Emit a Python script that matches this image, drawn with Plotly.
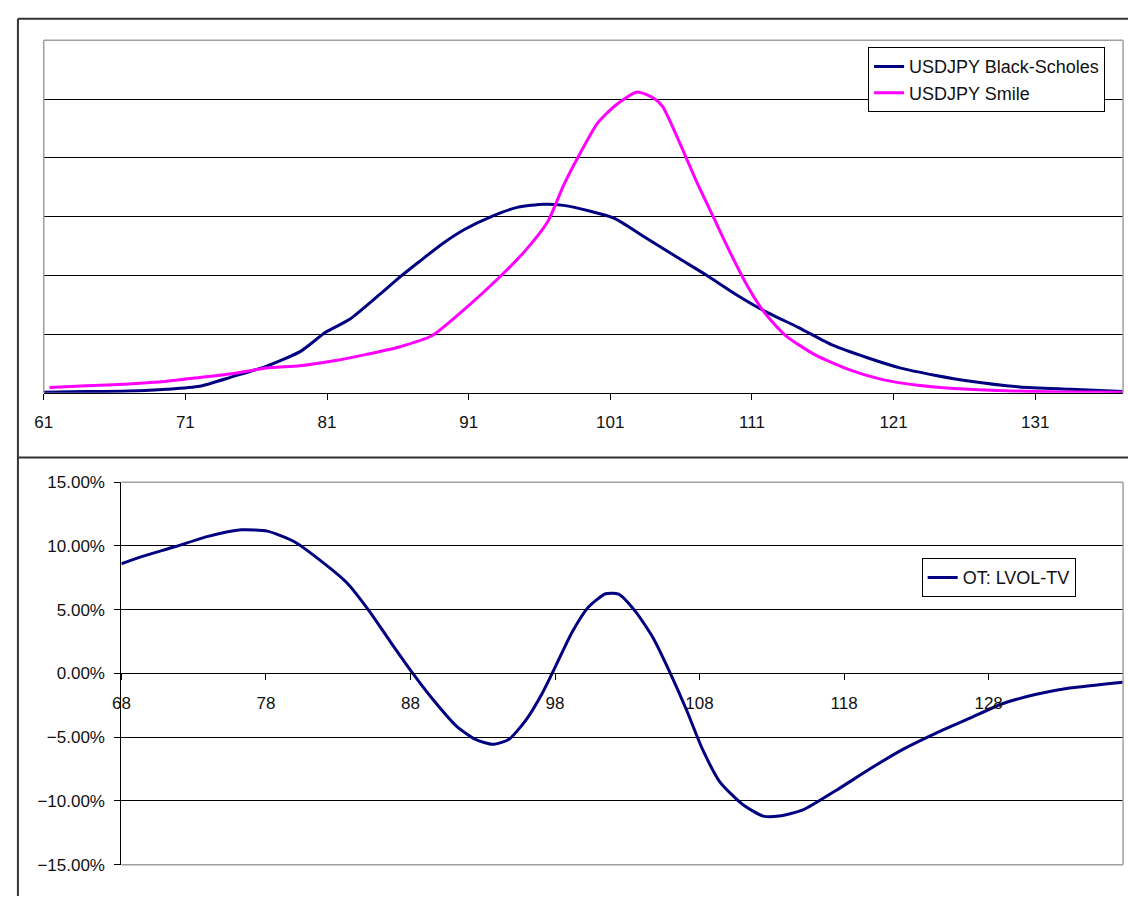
import plotly.graph_objects as go

# ---------------- data ----------------
bs_strike = [61, 64, 67, 69.7, 72, 74.4, 76.7, 79.1, 80.9, 82.6, 84.7, 86.1, 87.5, 89.1,
             90.7, 92.6, 94.5, 96.3, 97.7, 99.6, 101.3, 103.5, 105.9, 107.8, 109.9, 111.9,
             114.3, 116.7, 119.1, 121.5, 123.9, 126.3, 129.9, 133.5, 137.2]
bs_density = [0.01, 0.02, 0.03, 0.06, 0.11, 0.28, 0.45, 0.70, 1.03, 1.25, 1.67, 1.96, 2.23, 2.53,
              2.78, 3.00, 3.16, 3.21, 3.19, 3.09, 2.97, 2.64, 2.28, 2.00, 1.67, 1.39,
              1.11, 0.81, 0.60, 0.42, 0.30, 0.20, 0.10, 0.06, 0.02]

smile_strike = [61.4, 64, 67, 69.7, 72, 74.4, 76.7, 79.1, 81.4, 83.7, 86.1, 88.4, 90.7, 93.1,
                95.0, 96.6, 97.7, 98.7, 100.1, 101.4, 102.9, 104.1, 104.7, 106.2, 107.1, 108.3,
                109.5, 110.7, 111.9, 113.4, 115.5, 117.9, 120.3, 122.7, 126.3, 131.1, 137.2]
smile_density = [0.09, 0.12, 0.15, 0.195, 0.26, 0.33, 0.42, 0.46, 0.54, 0.65, 0.78, 0.97, 1.42, 1.95,
                 2.42, 2.92, 3.53, 4.00, 4.59, 4.90, 5.12, 5.01, 4.87, 4.09, 3.59, 2.98,
                 2.37, 1.81, 1.36, 0.97, 0.64, 0.39, 0.22, 0.13, 0.06, 0.02, 0.01]

lvol_strike = [68, 69.4, 71.7, 74.0, 76.3, 78.1, 80.0, 82.0, 83.6, 85.2, 86.6, 88.2, 89.6, 91.2,
               92.5, 93.7, 94.8, 96.0, 97.1, 97.8, 99.2, 100.3, 101.5, 102.4, 103.6, 104.8,
               105.9, 107.1, 108.2, 109.4, 111.0, 112.4, 113.5, 115.2, 117.5, 119.8, 122.1,
               124.4, 126.7, 129.0, 131.3, 133.6, 137.3]
lvol_minus_tv = [0.0860, 0.0916, 0.0993, 0.1075, 0.1126, 0.1116, 0.1031, 0.0865, 0.0711, 0.0481,
                 0.0250, -0.0005, -0.0210, -0.0415, -0.0518, -0.0556, -0.0518, -0.0364, -0.0159,
                 0.0000, 0.0327, 0.0519, 0.0625, 0.0622, 0.0481, 0.0276, 0.0020, -0.0287,
                 -0.0594, -0.0850, -0.1029, -0.1119, -0.1119, -0.1068, -0.0914, -0.0748,
                 -0.0594, -0.0466, -0.0351, -0.0236, -0.0164, -0.0115, -0.0069]

top_ticks = [61, 71, 81, 91, 101, 111, 121, 131]
bottom_ticks = [68, 78, 88, 98, 108, 118, 128]
pct_ticks = [-0.15, -0.10, -0.05, 0.0, 0.05, 0.10, 0.15]

# ---------------- layout geometry (page pixels, body margin removed) ----------------
W, H = 1128, 906
def px(x): return x / W
def py(y): return 1 - y / H

NAVY = "#000080"
MAGENTA = "#FF00FF"
FONT = "Liberation Sans, Arial, sans-serif"
FS = 17

fig = go.Figure()
fig.add_trace(go.Scatter(x=bs_strike, y=bs_density, mode="lines", name="USDJPY Black-Scholes",
                         line=dict(color=NAVY, width=3, shape="spline", smoothing=0.6),
                         xaxis="x", yaxis="y", legend="legend", legendgroup="a"))
fig.add_trace(go.Scatter(x=smile_strike, y=smile_density, mode="lines", name="USDJPY Smile",
                         line=dict(color=MAGENTA, width=3, shape="spline", smoothing=0.6),
                         xaxis="x", yaxis="y", legend="legend", legendgroup="b"))
fig.add_trace(go.Scatter(x=lvol_strike, y=lvol_minus_tv, mode="lines", name="OT: LVOL-TV",
                         line=dict(color=NAVY, width=3, shape="spline", smoothing=0.6),
                         xaxis="x2", yaxis="y2", legend="legend2"))

top_dom_y = [py(392), py(32)]
bot_dom_y = [py(874), py(483.3)]

fig.update_layout(
    width=W, height=H, margin=dict(l=0, r=0, t=0, b=0),
    paper_bgcolor="white", plot_bgcolor="white",
    font=dict(family=FONT, size=FS, color="#111"),
    showlegend=True,
    xaxis=dict(domain=[px(35), px(1123)], range=[61, 137.2], anchor="y",
               tickmode="array", tickvals=top_ticks, ticktext=[str(t) for t in top_ticks],
               showgrid=False, zeroline=False, showline=True, linecolor="#000", linewidth=1,
               ticks="outside", ticklen=6, tickcolor="#000", ticklabelstandoff=8),
    yaxis=dict(domain=top_dom_y, range=[0, 6], anchor="x", dtick=1, showticklabels=False,
               showgrid=True, gridcolor="#000", gridwidth=1, zeroline=False, showline=False,
               ticks=""),
    xaxis2=dict(domain=[px(113.3), px(1123)], range=[68, 137.3], anchor="free",
                position=(bot_dom_y[0] + bot_dom_y[1]) / 2,
                tickmode="array", tickvals=bottom_ticks, ticktext=[str(t) for t in bottom_ticks],
                showgrid=False, zeroline=False, showline=True, linecolor="#000", linewidth=1,
                ticks="outside", ticklen=6, tickcolor="#000", ticklabelstandoff=8),
    yaxis2=dict(domain=bot_dom_y, range=[-0.15, 0.15], anchor="x2",
                tickmode="array", tickvals=pct_ticks, tickformat=".2%",
                showgrid=True, gridcolor="#000", gridwidth=1, zeroline=False,
                showline=True, linecolor="#000", linewidth=1,
                ticks="outside", ticklen=6, tickcolor="#000", ticklabelstandoff=6),
    legend=dict(x=px(866), y=py(39), xanchor="left", yanchor="top",
                bgcolor="white", bordercolor="#000", borderwidth=1,
                font=dict(family=FONT, size=18, color="#111"),
                traceorder="grouped", tracegroupgap=0, itemwidth=30),
    legend2=dict(x=px(920), y=py(561), xanchor="left", yanchor="top",
                 bgcolor="white", bordercolor="#000", borderwidth=1,
                 font=dict(family=FONT, size=18, color="#111"), itemwidth=30),
)

shapes = []
# outer chart-area frames
for (x0, y0, x1, y1) in [(9, 10, W, 10), (9, 10, 9, H), (9, 458, W, 458)]:
    shapes.append(dict(type="line", xref="paper", yref="paper",
                       x0=px(x0), y0=py(y0), x1=px(x1), y1=py(y1),
                       line=dict(color="#333", width=2)))
# grey plot-area borders
for (xr, yr, x0, y0, x1, y1) in [
    ("x domain", "y domain", 0, 0, 0, 1),
    ("x domain", "y domain", 0, 1, 1, 1),
    ("x domain", "y domain", 1, 0, 1, 1),
    ("x2 domain", "y2 domain", 0, 1, 1, 1),
    ("x2 domain", "y2 domain", 1, 0, 1, 1),
    ("x2 domain", "y2 domain", 0, 0, 1, 0),
]:
    shapes.append(dict(type="line", xref=xr, yref=yr, x0=x0, y0=y0, x1=x1, y1=y1,
                       line=dict(color="#a0a0a0", width=1.5), layer="above"))
fig.update_layout(shapes=shapes)

fig.write_html("out.html", config={"displayModeBar": False},
               post_script="document.body.style.margin='0';")
